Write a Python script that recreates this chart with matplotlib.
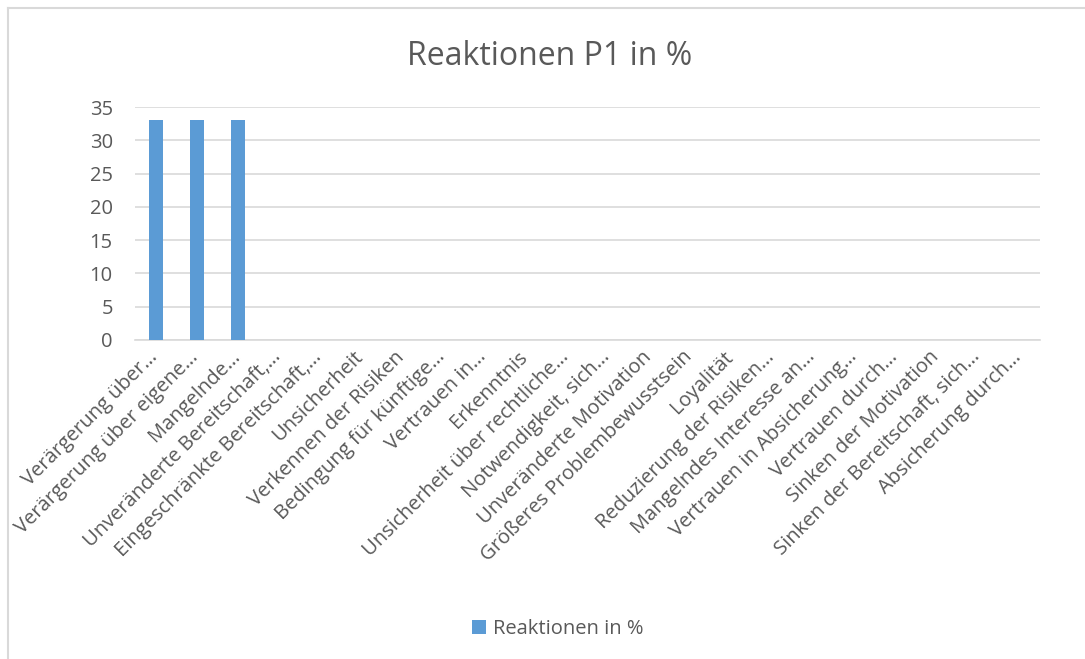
import matplotlib.pyplot as plt
from matplotlib.lines import Line2D
from matplotlib.transforms import ScaledTranslation

categories = [
    "Verärgerung über…",
    "Verärgerung über eigene…",
    "Mangelnde…",
    "Unveränderte Bereitschaft,…",
    "Eingeschränkte Bereitschaft,…",
    "Unsicherheit",
    "Verkennen der Risiken",
    "Bedingung für künftige…",
    "Vertrauen in…",
    "Erkenntnis",
    "Unsicherheit über rechtliche…",
    "Notwendigkeit, sich…",
    "Unveränderte Motivation",
    "Größeres Problembewusstsein",
    "Loyalität",
    "Reduzierung der Risiken…",
    "Mangelndes Interesse an…",
    "Vertrauen in Absicherung…",
    "Vertrauen durch…",
    "Sinken der Motivation",
    "Sinken der Bereitschaft, sich…",
    "Absicherung durch…",
]
values = [33, 33, 33] + [0] * 19
yticks = [0, 5, 10, 15, 20, 25, 30, 35]

text_col = "#595959"
bar_col = "#5B9BD5"
grid_col = "#D9D9D9"

plt.rcParams["font.family"] = ["Open Sans", "DejaVu Sans"]

fig = plt.figure(figsize=(10.85, 6.59), dpi=100)
ax = fig.add_axes([0.1244, 0.4841, 0.834, 0.3535])

x = list(range(len(categories)))
ax.bar(x, values, width=0.34, color=bar_col, zorder=3, label="Reaktionen in %")

ax.set_xlim(-0.5, len(categories) - 0.5)
ax.set_ylim(0, 35)
ax.set_yticks(yticks)
ax.set_yticklabels([str(t) for t in yticks], fontsize=14.5, color=text_col)
ax.set_xticks(x)
ax.set_xticklabels([])

# rotated category labels, nudged left a little like the original
lbl_trans = ax.get_xaxis_transform() + ScaledTranslation(-0.08, -0.07, fig.dpi_scale_trans)
for xi, cat in zip(x, categories):
    ax.text(xi, 0, cat, transform=lbl_trans, rotation=45, ha="right", va="top",
            rotation_mode="anchor", fontsize=14.5, color=text_col)

ax.tick_params(axis="both", length=0)
ax.tick_params(axis="y", pad=16)
ax.grid(axis="y", color=grid_col, linewidth=1.2, zorder=0)
for s in ["top", "right", "left"]:
    ax.spines[s].set_visible(False)
ax.spines["bottom"].set_color(grid_col)
ax.spines["bottom"].set_linewidth(1.2)

fig.text(0.507, 0.914, "Reaktionen P1 in %", ha="center", va="center",
         fontsize=23, color=text_col)

# legend at bottom
fig.legend(loc="center", bbox_to_anchor=(0.514, 0.046), frameon=False,
           fontsize=14.5, labelcolor=text_col, handlelength=0.7,
           handleheight=0.7, handletextpad=0.3)

# chart border (left and top only visible)
fig.add_artist(Line2D([8 / 1085, 8 / 1085], [0, 1 - 8 / 659],
                      transform=fig.transFigure, color=grid_col, lw=1.5))
fig.add_artist(Line2D([8 / 1085, 1], [1 - 8 / 659, 1 - 8 / 659],
                      transform=fig.transFigure, color=grid_col, lw=1.5))

fig.savefig("out.png", dpi=100)
